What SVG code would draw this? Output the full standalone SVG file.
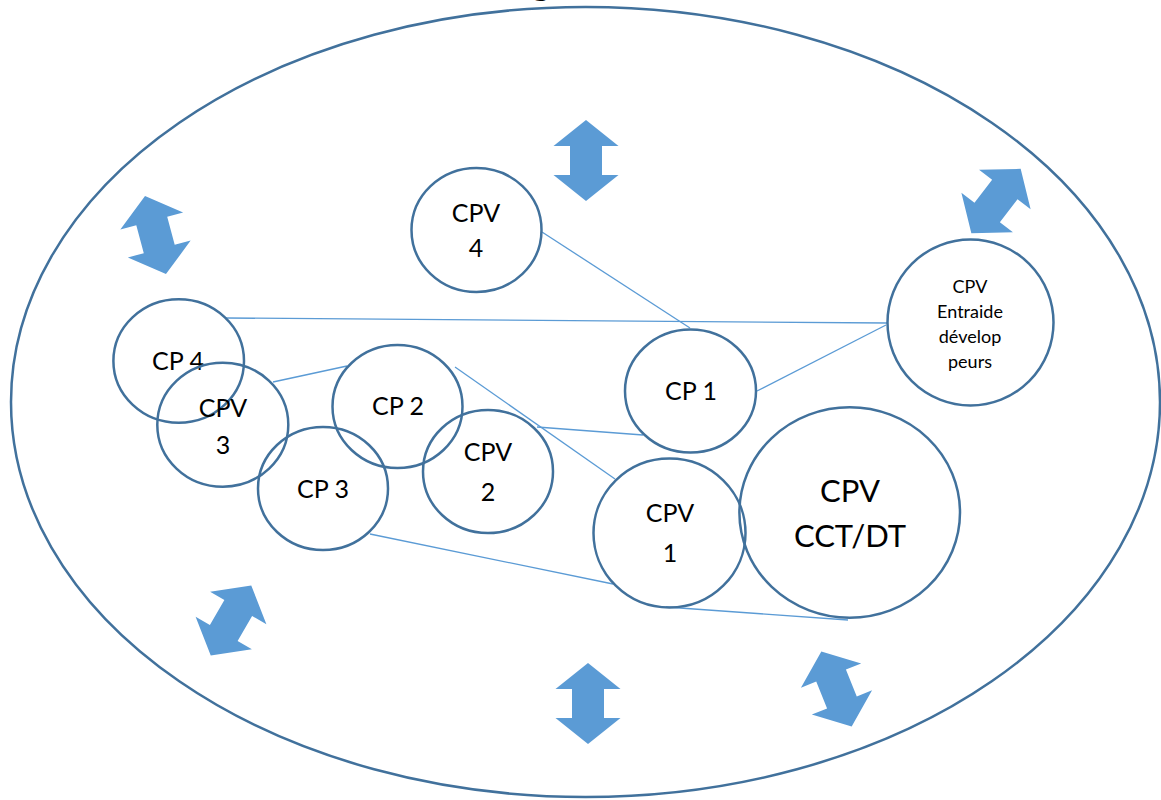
<svg xmlns="http://www.w3.org/2000/svg" width="1161" height="800" viewBox="0 0 1161 800">
  <style>
    .node { fill: none; stroke: #41719C; stroke-width: 2.5; }
    .conn { stroke: #5B9BD5; stroke-width: 1.3; fill: none; }
    .lbl { font-family: Lato, "Liberation Sans", sans-serif; fill: #000; text-anchor: middle; }
    .s { font-size: 25px; }
    .l { font-size: 31px; }
    .xs { font-size: 18px; }
    .arr { fill: #5B9BD5; }
  </style>
  <defs>
    <path id="dbl" d="M0,-40.5 L32.5,-14.5 L16,-14.5 L16,14.5 L32.5,14.5 L0,40.5 L-32.5,14.5 L-16,14.5 L-16,-14.5 L-32.5,-14.5 Z"/>
  </defs>
  <rect width="1161" height="800" fill="#fff"/>
  <text class="lbl" x="541" y="-6" font-size="40">g</text>

  <g id="outer">
    <ellipse cx="585.5" cy="402" rx="574.5" ry="395" class="node"/>
  </g>

  <g id="connectors">
    <line class="conn" x1="542" y1="232" x2="690" y2="328"/>
    <line class="conn" x1="226" y1="318" x2="887" y2="323"/>
    <line class="conn" x1="757" y1="391" x2="886" y2="325"/>
    <line class="conn" x1="273" y1="382" x2="347" y2="366"/>
    <line class="conn" x1="537" y1="427" x2="643" y2="435"/>
    <line class="conn" x1="455" y1="367" x2="615" y2="479"/>
    <line class="conn" x1="370" y1="534" x2="613" y2="584"/>
    <line class="conn" x1="666" y1="607" x2="848" y2="620"/>
  </g>

  <g id="arrows">
    <use href="#dbl" class="arr" transform="translate(586,160.5)"/>
    <use href="#dbl" class="arr" transform="translate(588,703.5)"/>
    <use href="#dbl" class="arr" transform="translate(155.5,235) rotate(-15)"/>
    <use href="#dbl" class="arr" transform="translate(996,201) rotate(37.5)"/>
    <use href="#dbl" class="arr" transform="translate(231,620.5) rotate(30)"/>
    <use href="#dbl" class="arr" transform="translate(836.5,689) rotate(-22)"/>
  </g>

  <g id="cpv4">
    <ellipse cx="476.5" cy="230" rx="65" ry="62" class="node"/>
    <text class="lbl s" x="476" y="222">CPV</text>
    <text class="lbl s" x="476" y="257">4</text>
  </g>
  <g id="cp4">
    <ellipse cx="178.7" cy="361" rx="65.3" ry="61.7" class="node"/>
    <text class="lbl s" x="178" y="370">CP 4</text>
  </g>
  <g id="cpv3">
    <ellipse cx="222.8" cy="424.7" rx="65.5" ry="62" class="node"/>
    <text class="lbl s" x="223" y="417">CPV</text>
    <text class="lbl s" x="223" y="454">3</text>
  </g>
  <g id="cp3">
    <ellipse cx="323" cy="488.5" rx="65" ry="61.5" class="node"/>
    <text class="lbl s" x="323" y="498">CP 3</text>
  </g>
  <g id="cp2">
    <ellipse cx="397.5" cy="406.5" rx="65" ry="61.5" class="node"/>
    <text class="lbl s" x="398" y="415">CP 2</text>
  </g>
  <g id="cpv2">
    <ellipse cx="488" cy="471.5" rx="65" ry="61.5" class="node"/>
    <text class="lbl s" x="488" y="461">CPV</text>
    <text class="lbl s" x="488" y="501">2</text>
  </g>
  <g id="cp1">
    <ellipse cx="690.5" cy="391" rx="65.5" ry="61.5" class="node"/>
    <text class="lbl s" x="691" y="400">CP 1</text>
  </g>
  <g id="cpv1">
    <ellipse cx="669.5" cy="533" rx="76" ry="74.5" class="node"/>
    <text class="lbl s" x="670" y="522">CPV</text>
    <text class="lbl s" x="670" y="562">1</text>
  </g>
  <g id="cpv-cct">
    <ellipse cx="849.7" cy="512.5" rx="110.3" ry="105.2" class="node"/>
    <text class="lbl l" x="850" y="502">CPV</text>
    <text class="lbl l" x="850" y="547">CCT/DT</text>
  </g>
  <g id="cpv-entraide">
    <ellipse cx="970.5" cy="322.5" rx="83" ry="83" class="node"/>
    <text class="lbl xs" x="970" y="293">CPV</text>
    <text class="lbl xs" x="970" y="318">Entraide</text>
    <text class="lbl xs" x="970" y="343">dévelop</text>
    <text class="lbl xs" x="970" y="368">peurs</text>
  </g>
</svg>
